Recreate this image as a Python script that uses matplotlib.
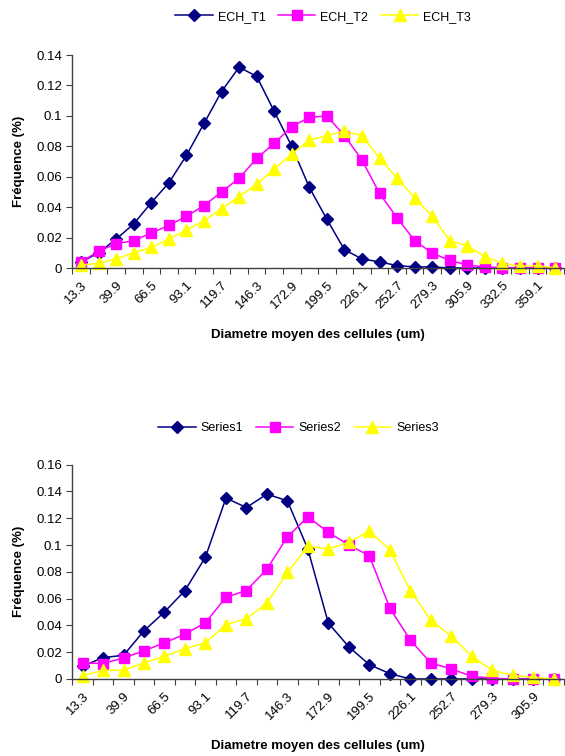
import numpy as np
import matplotlib
matplotlib.use("Agg")
import matplotlib.pyplot as plt
import matplotlib.transforms as mtransforms

plt.rcParams['font.family'] = ['Liberation Sans', 'DejaVu Sans']

# donnees
diam_top = [round(13.3 * i, 1) for i in range(1, 29)]
ech_t1 = [0.004, 0.010, 0.019, 0.029, 0.043, 0.056, 0.074, 0.095, 0.116, 0.132,
          0.126, 0.103, 0.080, 0.053, 0.032, 0.012, 0.006, 0.004, 0.0016, 0.0007,
          0.0007, 0.0, 0.0, 0.0, 0.0, 0.0, 0.0, 0.0]
ech_t2 = [0.004, 0.011, 0.016, 0.018, 0.023, 0.028, 0.034, 0.041, 0.050, 0.059,
          0.072, 0.082, 0.093, 0.099, 0.100, 0.087, 0.071, 0.049, 0.033, 0.018,
          0.0098, 0.005, 0.002, 0.0007, 0.0002, 0.0002, 0.0002, 0.0002]
ech_t3 = [0.002, 0.003, 0.006, 0.010, 0.0135, 0.019, 0.025, 0.031, 0.039, 0.047,
          0.055, 0.065, 0.075, 0.084, 0.087, 0.090, 0.087, 0.072, 0.059, 0.046,
          0.034, 0.018, 0.0145, 0.0075, 0.003, 0.0013, 0.0015, 0.0]

diam_bot = [round(13.3 * i, 1) for i in range(1, 25)]
series1 = [0.0094, 0.016, 0.0176, 0.036, 0.050, 0.066, 0.091, 0.135, 0.128, 0.138,
           0.133, 0.097, 0.0417, 0.024, 0.0107, 0.004, 0.0, 0.0, 0.0, 0.0,
           0.0, 0.0, 0.0, 0.0]
series2 = [0.012, 0.0115, 0.0157, 0.021, 0.027, 0.0335, 0.042, 0.061, 0.066, 0.082,
           0.106, 0.121, 0.1095, 0.100, 0.092, 0.053, 0.029, 0.012, 0.0075, 0.002,
           0.0005, 0.0, 0.0, 0.0]
series3 = [0.0025, 0.0065, 0.0065, 0.012, 0.017, 0.0226, 0.027, 0.0405, 0.045, 0.0566,
           0.0795, 0.099, 0.097, 0.102, 0.1105, 0.0964, 0.066, 0.044, 0.032, 0.017,
           0.0065, 0.0027, 0.0012, 0.0]

styles = [dict(color='#000080', marker='D', markersize=6),
          dict(color='#FF00FF', marker='s', markersize=6.5),
          dict(color='#FFFF00', marker='^', markersize=8)]

def DrawChart(fig, rect, diam, data, names, ymax, legend_x, legend_y):
    ax = fig.add_axes(rect)
    x = np.arange(1, len(diam) + 1)
    for values, name, st in zip(data, names, styles):
        ax.plot(x, values, linewidth=1.1, label=name, clip_on=False,
                markeredgecolor=st['color'], **st)
    ax.set_xlim(0.5, len(diam) + 0.5)
    ax.set_ylim(0, ymax)
    yt = np.arange(0, ymax + 1e-9, 0.02)
    ax.set_yticks(yt)
    ax.set_yticklabels(['0' if v == 0 else ('%g' % round(v, 2)) for v in yt])
    # ticks entre les categories, etiquettes une sur deux
    ax.set_xticks(np.arange(0.5, len(diam) + 1, 1.0))
    ax.set_xticklabels([])
    ax.set_xticks(x[::2], minor=True)
    ax.set_xticklabels([str(d) for d in diam[::2]], minor=True, rotation=45,
                       ha='right', va='top', rotation_mode='anchor', fontsize=9.5)
    offset = mtransforms.ScaledTranslation(-7 / 100, 0, fig.dpi_scale_trans)
    for lab in ax.get_xticklabels(minor=True):
        lab.set_transform(lab.get_transform() + offset)
    ax.tick_params(axis='x', which='minor', length=0, pad=8)
    ax.tick_params(axis='x', which='major', length=4, direction='out', color='#404040')
    ax.tick_params(axis='y', length=4, direction='out', color='#404040', labelsize=9.5)
    for s in ['top', 'right']:
        ax.spines[s].set_visible(False)
    for s in ['left', 'bottom']:
        ax.spines[s].set_color('#404040')
        ax.spines[s].set_linewidth(1.0)
    ax.set_xlabel('Diametre moyen des cellules (um)', fontsize=9.5, fontweight='bold', labelpad=13)
    ax.set_ylabel('Fréquence (%)', fontsize=9.5, fontweight='bold', labelpad=8)
    ax.legend(loc='center', bbox_to_anchor=(legend_x, legend_y), ncol=3, frameon=False,
              fontsize=9, handlelength=3.0, handletextpad=0.4, columnspacing=1.0)
    return ax

fig = plt.figure(figsize=(5.65, 7.56), dpi=100)
DrawChart(fig, [0.128, 0.6455, 0.870, 0.2817], diam_top, [ech_t1, ech_t2, ech_t3],
          ['ECH_T1', 'ECH_T2', 'ECH_T3'], 0.14, 0.51, 1.18)
DrawChart(fig, [0.128, 0.1019, 0.870, 0.2835], diam_bot, [series1, series2, series3],
          ['Series1', 'Series2', 'Series3'], 0.16, 0.46, 1.17)
fig.savefig('out.png', dpi=100)
